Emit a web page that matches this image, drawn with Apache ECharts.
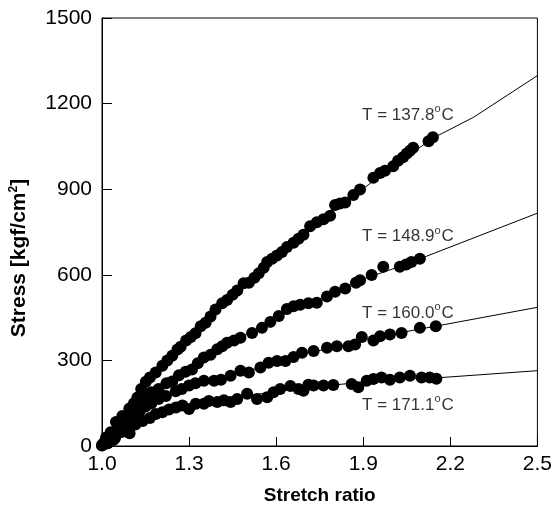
<!DOCTYPE html>
<html>
<head>
<meta charset="utf-8">
<script src="https://cdn.jsdelivr.net/npm/echarts@6/dist/echarts.min.js"></script>
<style>
html,body{margin:0;padding:0;background:#fff;}
#main{width:555px;height:510px;}
</style>
</head>
<body>
<div id="main"></div>
<script>
// ---- data ----
const xTicks = [1.0, 1.3, 1.6, 1.9, 2.2, 2.5];
const yTicks = [0, 300, 600, 900, 1200, 1500];

const seriesNames = ['137.8', '148.9', '160.0', '171.1'];

const pts1378 = [[1.0,3],[1.014,30],[1.03,48],[1.048,84],[1.07,105],[1.094,131],[1.11,150],[1.122,170],[1.135,200],[1.151,225],[1.165,240],[1.185,258],[1.208,281],[1.225,300],[1.242,316],[1.26,338],[1.271,348],[1.29,370],[1.306,382],[1.322,395],[1.34,420],[1.357,432],[1.374,454],[1.391,478],[1.414,500],[1.431,512],[1.45,530],[1.466,545],[1.488,570],[1.506,572],[1.525,590],[1.54,605],[1.557,625],[1.569,645],[1.586,656],[1.603,668],[1.62,680],[1.637,697],[1.66,712],[1.677,726],[1.694,740],[1.717,770],[1.74,784],[1.763,795],[1.786,807],[1.803,845],[1.82,850],[1.838,853],[1.866,880],[1.889,899],[1.935,940],[1.958,957],[1.975,965],[2.003,980],[2.02,1000],[2.037,1012],[2.05,1025],[2.061,1035],[2.072,1045],[2.125,1068],[2.14,1082]];
const pts1489 = [[1.005,10],[1.03,32],[1.06,70],[1.085,100],[1.11,130],[1.13,148],[1.15,170],[1.17,188],[1.195,200],[1.222,220],[1.242,226],[1.265,248],[1.288,260],[1.31,268],[1.33,290],[1.351,310],[1.374,320],[1.397,339],[1.414,350],[1.431,362],[1.455,370],[1.477,379],[1.517,396],[1.551,414],[1.58,435],[1.609,456],[1.637,480],[1.66,490],[1.683,495],[1.711,500],[1.74,502],[1.775,524],[1.803,541],[1.838,552],[1.875,572],[1.889,581],[1.929,599],[1.969,628],[2.026,628],[2.048,636],[2.066,645],[2.095,656]];
const pts1600 = [[1.01,8],[1.04,22],[1.065,50],[1.09,80],[1.11,100],[1.13,122],[1.15,138],[1.17,150],[1.195,165],[1.22,175],[1.254,192],[1.275,200],[1.3,212],[1.322,220],[1.351,229],[1.386,229],[1.41,232],[1.443,246],[1.477,264],[1.506,258],[1.546,275],[1.574,292],[1.603,298],[1.632,298],[1.66,312],[1.689,327],[1.729,333],[1.775,344],[1.809,350],[1.849,350],[1.872,356],[1.895,382],[1.935,370],[1.958,385],[1.992,391],[2.032,396],[2.095,414],[2.15,420]];
const pts1711 = [[1.0,2],[1.02,10],[1.045,28],[1.07,50],[1.095,45],[1.115,75],[1.14,88],[1.165,98],[1.185,112],[1.208,118],[1.231,128],[1.255,135],[1.277,142],[1.3,130],[1.323,148],[1.351,148],[1.368,158],[1.397,154],[1.42,160],[1.443,154],[1.466,165],[1.5,183],[1.534,165],[1.569,171],[1.591,188],[1.614,200],[1.649,210],[1.677,200],[1.694,194],[1.711,215],[1.729,212],[1.763,212],[1.797,214],[1.86,217],[1.883,206],[1.912,229],[1.935,235],[1.963,240],[1.992,232],[2.026,240],[2.061,246],[2.101,240],[2.129,240],[2.152,236]];

const fit1378 = [[1.0,0],[1.1,140],[1.2,275],[1.3,380],[1.4,485],[1.5,575],[1.6,668],[1.7,752],[1.8,830],[1.9,902],[2.0,978],[2.14,1079],[2.28,1152],[2.5,1298]];
const fit1489 = [[1.0,0],[1.1,120],[1.2,205],[1.3,270],[1.4,340],[1.5,392],[1.6,450],[1.7,495],[1.8,538],[1.9,585],[2.0,620],[2.1,658],[2.5,816]];
const fit1600 = [[1.0,0],[1.1,90],[1.2,165],[1.3,210],[1.4,232],[1.5,262],[1.6,292],[1.7,325],[1.8,345],[1.9,372],[2.0,392],[2.15,420],[2.5,486]];
const fit1711 = [[1.0,0],[1.1,65],[1.2,115],[1.3,140],[1.4,158],[1.5,175],[1.6,192],[1.7,205],[1.8,214],[1.9,224],[2.0,235],[2.17,240],[2.5,264]];

const labelX = [2.054, 2.054, 2.054, 2.054];
const labelY = [1165, 739, 472, 149];

// ---- chart ----
const FONT = 'Arial, "Liberation Sans", sans-serif';
const chart = echarts.init(document.getElementById('main'), null, {renderer: 'canvas'});

const pointSets = [pts1378, pts1489, pts1600, pts1711];
const fitSets = [fit1378, fit1489, fit1600, fit1711];

const series = [];
fitSets.forEach((d) => {
  series.push({
    type: 'line', data: d, showSymbol: false, symbol: 'none',
    lineStyle: {color: '#000', width: 1}, z: 2, silent: true
  });
});
pointSets.forEach((d) => {
  series.push({
    type: 'scatter', data: d, symbol: 'circle', symbolSize: 12,
    itemStyle: {color: '#000', opacity: 1}, z: 3, silent: true
  });
});
series.push({
  type: 'scatter',
  data: seriesNames.map((n, i) => ({value: [labelX[i], labelY[i]], name: n})),
  symbolSize: 1,
  itemStyle: {color: 'rgba(0,0,0,0)'},
  z: 4, silent: true,
  label: {
    show: true, position: 'inside',
    formatter: p => '{n|T = ' + p.name + '}{s|o}{n|C}',
    rich: {
      n: {fontFamily: FONT, fontSize: 17, color: '#000', lineHeight: 20, verticalAlign: 'bottom'},
      s: {fontFamily: FONT, fontSize: 11, color: '#000', lineHeight: 20, verticalAlign: 'top', padding: [0,1,8,0]}
    }
  }
});

chart.setOption({
  animation: false,
  backgroundColor: '#fff',
  grid: {left: 101, right: 16, top: 18, bottom: 59, show: true, borderColor: '#000', borderWidth: 1, containLabel: false},
  xAxis: {
    type: 'value', min: 1.0, max: 2.5, interval: 0.3,
    name: 'Stretch ratio', nameLocation: 'middle', nameGap: 40,
    nameTextStyle: {fontFamily: FONT, fontSize: 19, fontWeight: 'bold', color: '#000'},
    axisLine: {show: true, lineStyle: {color: '#000', width: 1}},
    axisTick: {show: true, inside: true, length: 9, lineStyle: {color: '#000'}},
    axisLabel: {fontFamily: FONT, fontSize: 21, color: '#000', margin: 8, formatter: v => v.toFixed(1)},
    splitLine: {show: false}
  },
  yAxis: {
    type: 'value', min: 0, max: 1500, interval: 300,
    name: 'Stress [kgf/cm{s|2}]', nameLocation: 'middle', nameGap: 72, nameRotate: 90,
    nameTextStyle: {
      fontFamily: FONT, fontSize: 21, fontWeight: 'bold', color: '#000',
      padding: [0, 52, 0, 0],
      rich: {
        s: {fontFamily: FONT, fontSize: 12, fontWeight: 'bold', color: '#000', verticalAlign: 'top', padding: [0,0,10,0]}
      }
    },
    axisLine: {show: true, lineStyle: {color: '#000', width: 1}},
    axisTick: {show: true, inside: true, length: 10, lineStyle: {color: '#000'}},
    axisLabel: {fontFamily: FONT, fontSize: 21, color: '#000', margin: 10, formatter: v => String(v)},
    splitLine: {show: false}
  },
  series: series
});
</script>
</body>
</html>
